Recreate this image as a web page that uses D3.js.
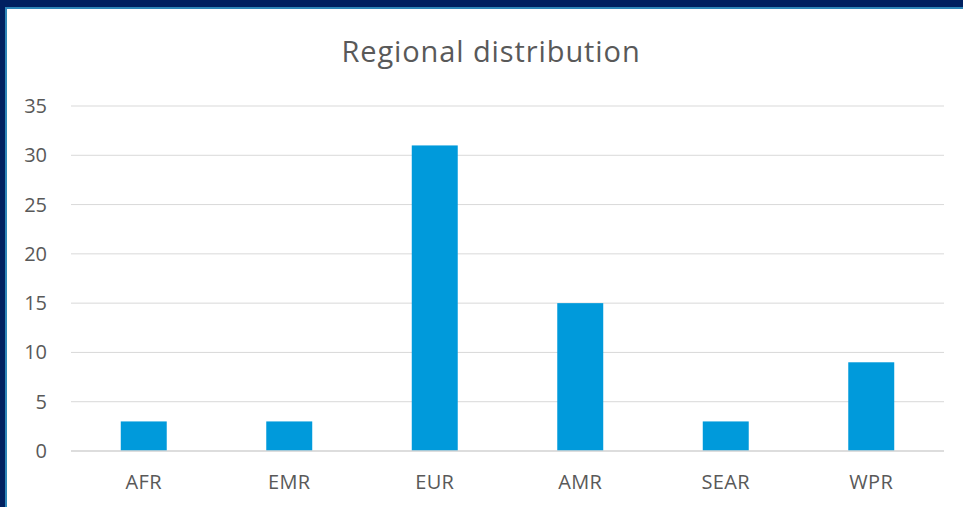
<!DOCTYPE html>
<html>
<head>
<meta charset="utf-8">
<script src="https://cdn.jsdelivr.net/npm/d3@7"></script>
<style>
  html, body { margin: 0; padding: 0; background: #002060; overflow: hidden; }
  #vis-container { position: absolute; left: 0; top: 0; }
  text { font-family: "Open Sans", sans-serif; fill: #595959; }
</style>
</head>
<body>
<div id="vis-container"></div>
<script>
// chart data
const regions = ["AFR", "EMR", "EUR", "AMR", "SEAR", "WPR"];
const counts = [3, 3, 31, 15, 3, 9];
const yTicks = [0, 5, 10, 15, 20, 25, 30, 35];
const title = "Regional distribution";

let width = 963;
let height = 507;
let margins = { top: 106, right: 19, bottom: 56, left: 71 };
let visWidth = width - margins.left - margins.right;
let visHeight = height - margins.top - margins.bottom;

let svg = d3.select("#vis-container").append("svg")
    .attr("width", width).attr("height", height);

// frame: navy edge with thin light-blue line, white chart area
svg.append("rect").attr("x", 0).attr("y", 0).attr("width", width).attr("height", height).attr("fill", "#002060");
svg.append("rect").attr("x", 5).attr("y", 7).attr("width", width).attr("height", height).attr("fill", "#2e86b8");
svg.append("rect").attr("x", 7).attr("y", 9).attr("width", width).attr("height", height).attr("fill", "#ffffff");

svg.append("text")
    .attr("x", 491).attr("y", 62)
    .attr("text-anchor", "middle")
    .style("font-size", "29px")
    .style("letter-spacing", "0.9px")
    .text(title);

let viewport = svg.append("g")
    .attr("transform", "translate(" + margins.left + "," + margins.top + ")");

let xScale = d3.scaleBand()
    .domain(regions)
    .range([0, visWidth])
    .paddingInner(0.684)
    .paddingOuter(0.342);

let yScale = d3.scaleLinear()
    .domain([0, 35])
    .range([visHeight, 0]);

// gridlines
viewport.append("g")
    .selectAll("line")
    .data(yTicks).enter().append("line")
    .attr("x1", 0).attr("x2", visWidth)
    .attr("y1", d => yScale(d)).attr("y2", d => yScale(d))
    .attr("stroke", "#d9d9d9").attr("stroke-width", 1);

// y labels
viewport.append("g")
    .selectAll("text")
    .data(yTicks).enter().append("text")
    .attr("x", -24).attr("y", d => yScale(d) + 7)
    .attr("text-anchor", "end")
    .style("font-size", "20px")
    .text(d => d);

// bars
viewport.append("g")
    .selectAll("rect")
    .data(regions).enter().append("rect")
    .attr("x", d => xScale(d))
    .attr("width", xScale.bandwidth())
    .attr("y", (d, i) => yScale(counts[i]))
    .attr("height", (d, i) => visHeight - yScale(counts[i]))
    .attr("fill", "#009ADB");

// baseline
viewport.append("line")
    .attr("x1", 0).attr("x2", visWidth)
    .attr("y1", visHeight).attr("y2", visHeight)
    .attr("stroke", "#d9d9d9").attr("stroke-width", 1.5);

// x labels
viewport.append("g")
    .selectAll("text")
    .data(regions).enter().append("text")
    .attr("x", d => xScale(d) + xScale.bandwidth() / 2)
    .attr("y", visHeight + 38)
    .attr("text-anchor", "middle")
    .style("font-size", "20px")
    .style("letter-spacing", "0.4px")
    .text(d => d);
</script>
</body>
</html>
